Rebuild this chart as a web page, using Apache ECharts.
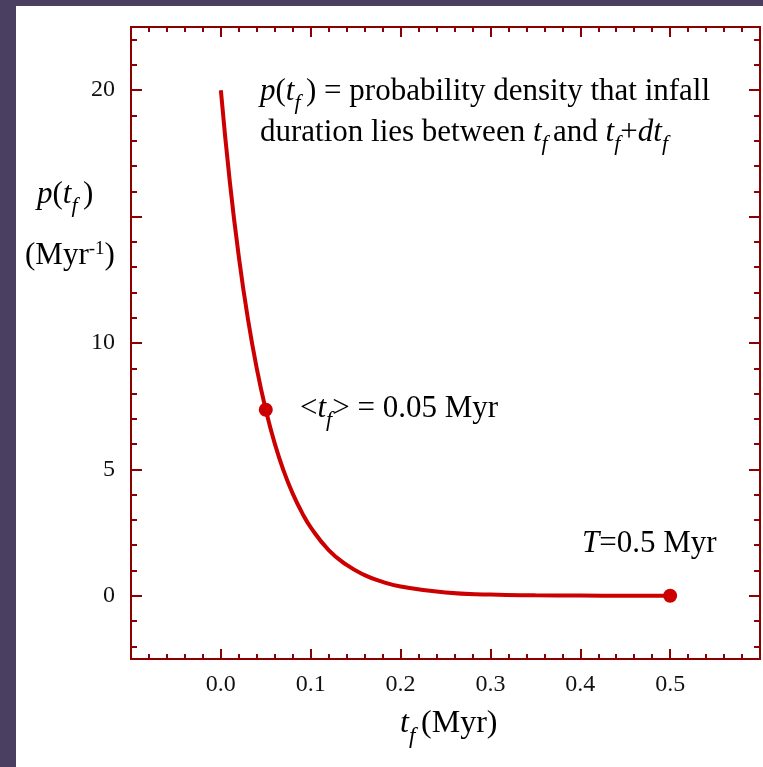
<!DOCTYPE html>
<html>
<head>
<meta charset="utf-8">
<script src="https://cdn.jsdelivr.net/npm/echarts@6/dist/echarts.min.js"></script>
<style>
  html, body { margin: 0; padding: 0; background: #4a3f60; }
  #chart { width: 763px; height: 767px; }
</style>
</head>
<body>
<div id="chart"></div>
<script>
    // curve: infall duration (Myr) vs density (1/Myr)
    var tVals = [0, 0.01, 0.02, 0.03, 0.04, 0.05, 0.06, 0.07, 0.08, 0.09, 0.10,
        0.12, 0.14, 0.16, 0.18, 0.20, 0.25, 0.30, 0.35, 0.40, 0.45, 0.50];
    var pVals = [20, 16.37, 13.41, 10.98, 8.99, 7.36, 6.02, 4.93, 4.04, 3.31, 2.71,
        1.81, 1.22, 0.82, 0.55, 0.37, 0.13, 0.05, 0.02, 0.01, 0.0, 0.0];

    // marked points: mean duration and cutoff T
    var markT = [0.05, 0.5];
    var markP = [7.36, 0.0];

    // tick labels
    var xLabels = ['0.0', '0.1', '0.2', '0.3', '0.4', '0.5'];
    var yLabelVals = [0, 5, 10, 20];
    var yMajorVals = [0, 5, 10, 15, 20];
    var yMinorVals = [-2, -1, 1, 2, 3, 4, 6, 7, 8, 9, 11, 12, 13, 14, 16, 17, 18, 19, 21, 22];

    var frameColor = '#8b0000';
    var curveColor = '#cc0000';
    var serif = 'Liberation Serif';

    function richSet(fs) {
        var lh = fs + 4;
        return {
            n: { fontFamily: serif, fontSize: fs, lineHeight: lh, verticalAlign: 'top', color: '#111' },
            i: { fontFamily: serif, fontSize: fs, lineHeight: lh, verticalAlign: 'top', color: '#111', fontStyle: 'italic' },
            s: { fontFamily: serif, fontSize: Math.round(fs * 0.72), lineHeight: Math.round(fs * 0.72),
                verticalAlign: 'top', color: '#111', fontStyle: 'italic', padding: [Math.round(fs * 0.53), 0, 0, 0] },
            u: { fontFamily: serif, fontSize: Math.round(fs * 0.6), lineHeight: Math.round(fs * 0.72),
                verticalAlign: 'top', color: '#111' }
        };
    }
    var rich31 = richSet(31);
    var rich32 = richSet(32);

    function label(x, y, text, rich) {
        return {
            type: 'text', x: x, y: y, z: 10,
            style: { text: text, rich: rich || rich31, align: 'left', verticalAlign: 'top' }
        };
    }

    var chart = echarts.init(document.getElementById('chart'));

    var curve = tVals.map(function (t, k) { return [t, pVals[k]]; });
    var marks = markT.map(function (t, k) { return [t, markP[k]]; });

    function yAxis(pos, ticks, len, labels) {
        return {
            type: 'value', position: pos, min: -2.5, max: 22.5,
            axisLine: { show: true, onZero: false, lineStyle: { color: frameColor, width: 2 } },
            axisTick: { show: true, inside: true, length: len, customValues: ticks,
                lineStyle: { color: frameColor, width: 2 } },
            axisLabel: labels ? { show: true, customValues: labels, margin: 16,
                fontFamily: serif, fontSize: 24, color: '#111' } : { show: false },
            splitLine: { show: false }
        };
    }

    function xAxis(pos, showLabel) {
        return {
            type: 'value', position: pos, min: -0.1, max: 0.6, interval: 0.1,
            axisLine: { show: true, onZero: false, lineStyle: { color: frameColor, width: 2 } },
            axisTick: { show: true, inside: true, length: 10, lineStyle: { color: frameColor, width: 2 } },
            minorTick: { show: true, splitNumber: 5, length: 5, lineStyle: { color: frameColor, width: 2 } },
            axisLabel: {
                show: showLabel, margin: 14, fontFamily: serif, fontSize: 24, color: '#111',
                formatter: function (v) {
                    var s = v.toFixed(1);
                    return xLabels.indexOf(s) >= 0 ? s : '';
                }
            },
            splitLine: { show: false }
        };
    }

    chart.setOption({
        backgroundColor: '#4a3f60',
        animation: false,
        grid: { left: 131, right: 1, top: 27, bottom: 108 },
        xAxis: [xAxis('bottom', true), xAxis('top', false)],
        yAxis: [
            yAxis('left', yMajorVals, 11, yLabelVals),
            yAxis('left', yMinorVals, 6, null),
            yAxis('right', yMajorVals, 11, null),
            yAxis('right', yMinorVals, 6, null)
        ],
        graphic: [
            { type: 'rect', z: -10, shape: { x: 16, y: 6, width: 747, height: 761 }, style: { fill: '#fff' } },
            label(260, 76, '{i|p}{n|(}{i|t}{s|f }{n|) = probability density that infall}'),
            label(260, 117, '{n|duration lies between }{i|t}{s|f }{n|and }{i|t}{s|f}{n|+}{i|dt}{s|f}'),
            label(300, 393, '{n|<}{i|t}{s|f}{n|> = 0.05 Myr}'),
            label(582, 528, '{i|T}{n|=0.5 Myr}'),
            label(400, 708, '{i|t}{s|f }{n|(Myr)}', rich32),
            label(37, 179, '{i|p}{n|(}{i|t}{s|f }{n|)}'),
            label(25, 240, '{n|(Myr}{u|-1}{n|)}')
        ],
        series: [
            {
                type: 'line', data: curve, smooth: true, showSymbol: false,
                lineStyle: { color: curveColor, width: 4 }, z: 3
            },
            {
                type: 'scatter', data: marks, symbolSize: 14,
                itemStyle: { color: curveColor, opacity: 1 }, z: 4
            }
        ]
    });
</script>
</body>
</html>
